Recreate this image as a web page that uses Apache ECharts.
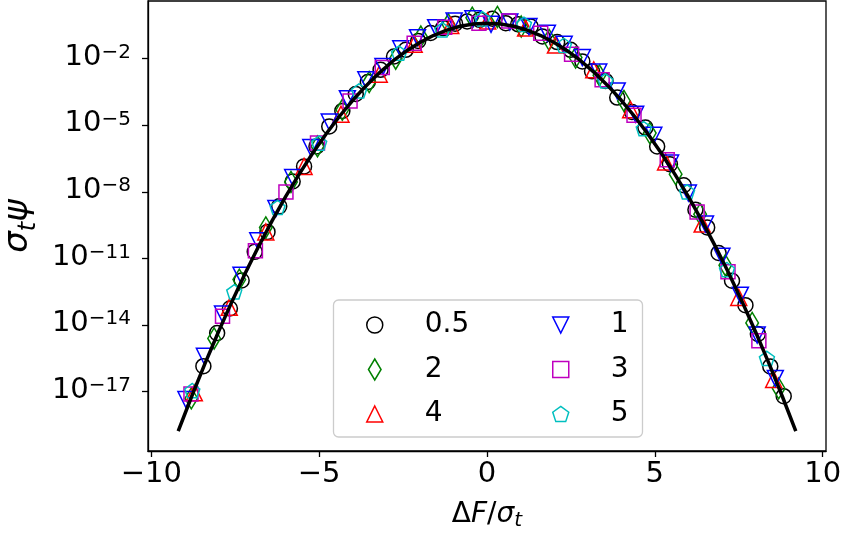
<!DOCTYPE html>
<html>
<head>
<meta charset="utf-8">
<script src="https://cdn.jsdelivr.net/npm/echarts@6/dist/echarts.min.js"></script>
<style>
html,body{margin:0;padding:0;background:#fff;}
#chart{width:843px;height:533px;}
</style>
</head>
<body>
<div id="chart"></div>
<script>
// ---- data (x = ΔF/σt, log10Psi = log10(σt ψ)) ----
const xTicks = [-10, -5, 0, 5, 10];
const yTicks = [1e-17, 1e-14, 1e-11, 1e-8, 1e-5, 1e-2];

const curveX = [-9.2,-8.8,-8.4,-8.0,-7.6,-7.2,-6.8,-6.4,-6.0,-5.6,-5.2,-4.8,-4.4,-4.0,-3.6,-3.2,-2.8,-2.4,-2.0,-1.6,-1.2,-0.8,-0.4,0,
  0.4,0.8,1.2,1.6,2.0,2.4,2.8,3.2,3.6,4.0,4.4,4.8,5.2,5.6,6.0,6.4,6.8,7.2,7.6,8.0,8.4,8.8,9.2];
const curveLog10 = [-18.779,-17.215,-15.721,-14.297,-12.942,-11.656,-10.440,-9.293,-8.216,-7.209,-6.271,-5.402,-4.603,-3.873,-3.213,-2.623,-2.101,-1.650,-1.268,-0.955,-0.712,-0.538,-0.434,-0.399,
  -0.434,-0.538,-0.712,-0.955,-1.268,-1.650,-2.101,-2.623,-3.213,-3.873,-4.603,-5.402,-6.271,-7.209,-8.216,-9.293,-10.440,-11.656,-12.942,-14.297,-15.721,-17.215,-18.779];

const x_05 = [-8.45,-8.04,-7.66,-7.31,-6.92,-6.54,-6.19,-5.79,-5.45,-5.08,-4.70,-4.31,-3.91,-3.55,-3.17,-2.77,-2.42,-2.05,-1.68,-1.31,-0.95,-0.59,-0.22,0.16,0.56,0.93,1.30,1.65,2.09,2.49,2.84,3.13,3.53,3.88,4.32,4.72,5.07,5.45,5.86,6.21,6.56,6.90,7.30,7.70,8.07,8.44,8.84];
const log10Psi_05 = [-15.85,-14.36,-13.25,-11.99,-10.7,-9.8,-8.65,-7.53,-6.85,-5.95,-5.05,-4.35,-3.59,-3.05,-2.5,-1.9,-1.6,-1.2,-0.84,-0.62,-0.42,-0.32,-0.25,-0.2,-0.4,-0.45,-0.55,-1.0,-1.25,-1.6,-2.12,-2.57,-3.0,-3.75,-4.4,-5.1,-5.95,-6.75,-7.7,-8.8,-9.6,-10.75,-12.0,-13.1,-14.4,-15.86,-17.2];

const x_1 = [-8.97,-8.42,-7.88,-7.33,-6.83,-6.29,-5.79,-5.25,-4.70,-4.16,-3.61,-3.10,-2.57,-2.07,-1.53,-0.98,-0.42,0.12,0.68,1.25,1.80,2.30,2.84,3.33,3.88,4.43,4.97,5.47,6.00,6.51,7.00,7.55,8.05,8.59];
const log10Psi_1 = [-17.35,-15.4,-13.5,-11.75,-10.2,-8.75,-7.35,-6.0,-4.85,-3.8,-2.95,-2.35,-1.55,-1.05,-0.6,-0.3,-0.2,-0.45,-0.35,-0.55,-0.85,-1.35,-1.95,-2.6,-3.45,-4.5,-5.45,-6.7,-8.05,-9.45,-10.9,-12.65,-14.45,-16.4];

const x_2 = [-8.81,-8.13,-7.38,-6.59,-5.84,-5.05,-4.31,-3.51,-2.72,-1.97,-1.15,-0.44,0.31,1.02,1.85,2.64,3.35,4.08,4.85,5.62,6.35,7.10,7.90,8.69];
const log10Psi_2 = [-17.3,-14.6,-11.95,-9.6,-7.55,-5.95,-4.3,-3.05,-2.0,-1.0,-0.45,-0.15,-0.12,-0.55,-1.15,-1.95,-2.75,-3.9,-5.35,-7.2,-9.0,-11.3,-13.9,-16.85];

const x_3 = [-8.82,-7.88,-6.90,-5.99,-5.05,-4.08,-3.12,-2.17,-1.26,-0.24,0.65,1.60,2.52,3.43,4.38,5.37,6.26,7.18,8.10];
const log10Psi_3 = [-17.1,-13.6,-10.65,-8.0,-5.8,-3.9,-2.4,-1.3,-0.58,-0.4,-0.3,-0.85,-1.8,-2.95,-4.55,-6.55,-8.9,-11.6,-14.7];

const x_4 = [-8.72,-7.68,-6.59,-5.45,-4.35,-3.21,-2.17,-1.08,0.02,1.15,2.04,3.18,4.28,5.32,6.41,7.50,8.54];
const log10Psi_4 = [-17.05,-13.2,-9.8,-6.85,-4.5,-2.7,-1.35,-0.5,-0.3,-0.62,-1.38,-2.5,-4.3,-6.65,-9.45,-12.75,-16.45];

const x_5 = [-8.78,-7.53,-6.24,-5.00,-3.81,-2.62,-1.33,-0.14,1.10,2.29,3.53,4.67,5.96,7.15,8.34];
const log10Psi_5 = [-16.95,-12.5,-8.7,-5.8,-3.45,-1.75,-0.7,-0.2,-0.45,-1.4,-3.0,-5.15,-8.0,-11.5,-15.5];

// ---- build ----
function pairs(xs, logs) { return xs.map((x, i) => [x, Math.pow(10, logs[i])]); }
const FONT = 'DejaVu Sans';
const SYM = {
  circle: 'circle',
  diamond: 'path://M0,-5L3,0L0,5L-3,0Z',
  triUp: 'path://M0,-1L1,1L-1,1Z',
  triDown: 'path://M-1,-1L1,-1L0,1Z',
  square: 'path://M0,0L1,0L1,1L0,1Z',
  pentagon: 'path://M0,-1L0.951,-0.309L0.588,0.809L-0.588,0.809L-0.951,-0.309Z'
};
function scat(name, xs, logs, color, symbol, size) {
  return {
    type: 'scatter', name: name, data: pairs(xs, logs),
    symbol: symbol, symbolSize: size, symbolKeepAspect: true,
    itemStyle: { color: 'rgba(0,0,0,0)', borderColor: color, borderWidth: 1.5, opacity: 1 },
    emphasis: { disabled: true }, z: 2
  };
}
const minus = s => String(s).replace('-', '\u2212');
const legendText = { fontFamily: FONT, fontSize: 28, color: '#000', padding: [0, 0, 0, 37], lineHeight: 21 };

const chart = echarts.init(document.getElementById('chart'), null, { renderer: 'canvas' });
chart.setOption({
  animation: false,
  backgroundColor: '#fff',
  grid: { left: 148, top: 1, width: 678, height: 450, show: true, borderColor: '#000', borderWidth: 1.3,
    backgroundColor: 'transparent', containLabel: false, outerBoundsMode: 'none' },
  xAxis: {
    type: 'value', min: -10.1, max: 10.1,
    name: '{n|\u0394}{i|F}{n|/}{i|\u03c3}{s|t}', nameLocation: 'middle', nameGap: 50,
    nameTextStyle: { fontFamily: FONT, fontSize: 28, color: '#000', rich: {
      n: { fontFamily: FONT, fontSize: 28, color: '#000', lineHeight: 30, verticalAlign: 'top' },
      i: { fontFamily: FONT, fontStyle: 'italic', fontSize: 28, color: '#000', lineHeight: 30, verticalAlign: 'top' },
      s: { fontFamily: FONT, fontStyle: 'italic', fontSize: 20, color: '#000', lineHeight: 20, verticalAlign: 'bottom' }
    } },
    axisLine: { onZero: false, lineStyle: { color: '#000', width: 1.3 } },
    axisTick: { customValues: xTicks, length: 6, lineStyle: { color: '#000', width: 1.3 } },
    axisLabel: { customValues: xTicks, formatter: v => minus(v), fontFamily: FONT, fontSize: 29, color: '#000', margin: 9 },
    splitLine: { show: false }
  },
  yAxis: {
    type: 'log', logBase: 10, min: 2.14e-20, max: 3.98,
    name: '{i|\u03c3}{s|t}{i|\u03c8}', nameLocation: 'middle', nameRotate: 90, nameGap: 106,
    nameTextStyle: { fontFamily: FONT, fontSize: 34, color: '#000', rich: {
      i: { fontFamily: FONT, fontStyle: 'italic', fontSize: 34, color: '#000', lineHeight: 40, verticalAlign: 'top' },
      s: { fontFamily: FONT, fontStyle: 'italic', fontSize: 24, color: '#000', lineHeight: 24, verticalAlign: 'bottom' }
    } },
    axisLine: { onZero: false, lineStyle: { color: '#000', width: 1.3 } },
    axisTick: { customValues: yTicks, length: 6, lineStyle: { color: '#000', width: 1.3 } },
    axisLabel: {
      customValues: yTicks, margin: 17,
      formatter: v => '{b|10}{s|\u2212' + Math.abs(Math.round(Math.log10(v))) + '}',
      rich: {
        b: { fontFamily: FONT, fontSize: 29, color: '#000', lineHeight: 32, verticalAlign: 'top' },
        s: { fontFamily: FONT, fontSize: 20, color: '#000', lineHeight: 20, verticalAlign: 'top' }
      }
    },
    splitLine: { show: false }, minorTick: { show: false }
  },
  legend: [
    { data: ['0.5', '2', '4'], orient: 'vertical', left: 366, top: 311, padding: 0, itemWidth: 16, itemHeight: 21, itemGap: 16.5,
      selectedMode: false, z: 5, textStyle: legendText, itemStyle: { borderWidth: 1.5 } },
    { data: ['1', '3', '5'], orient: 'vertical', left: 552, top: 311, padding: 0, itemWidth: 16, itemHeight: 21, itemGap: 16.5,
      selectedMode: false, z: 5, textStyle: legendText, itemStyle: { borderWidth: 1.5 } }
  ],
  graphic: [{
    type: 'rect', z: 4, silent: true,
    shape: { x: 333.5, y: 300, width: 309, height: 137, r: 5 },
    style: { fill: 'rgba(255,255,255,0.8)', stroke: '#cccccc', lineWidth: 1.3 }
  }],
  series: [
    scat('0.5', x_05, log10Psi_05, '#000000', SYM.circle, 15),
    scat('2', x_2, log10Psi_2, '#008000', SYM.diamond, 21),
    scat('4', x_4, log10Psi_4, '#ff0000', SYM.triUp, 16),
    scat('1', x_1, log10Psi_1, '#0000ff', SYM.triDown, 16),
    scat('3', x_3, log10Psi_3, '#bf00bf', SYM.square, 14),
    scat('5', x_5, log10Psi_5, '#00bfbf', SYM.pentagon, 15),
    { type: 'line', name: 'curve', data: pairs(curveX, curveLog10), showSymbol: false, symbol: 'none',
      lineStyle: { color: '#000', width: 3.5 }, silent: true, z: 3, emphasis: { disabled: true } }
  ]
});
</script>
</body>
</html>
